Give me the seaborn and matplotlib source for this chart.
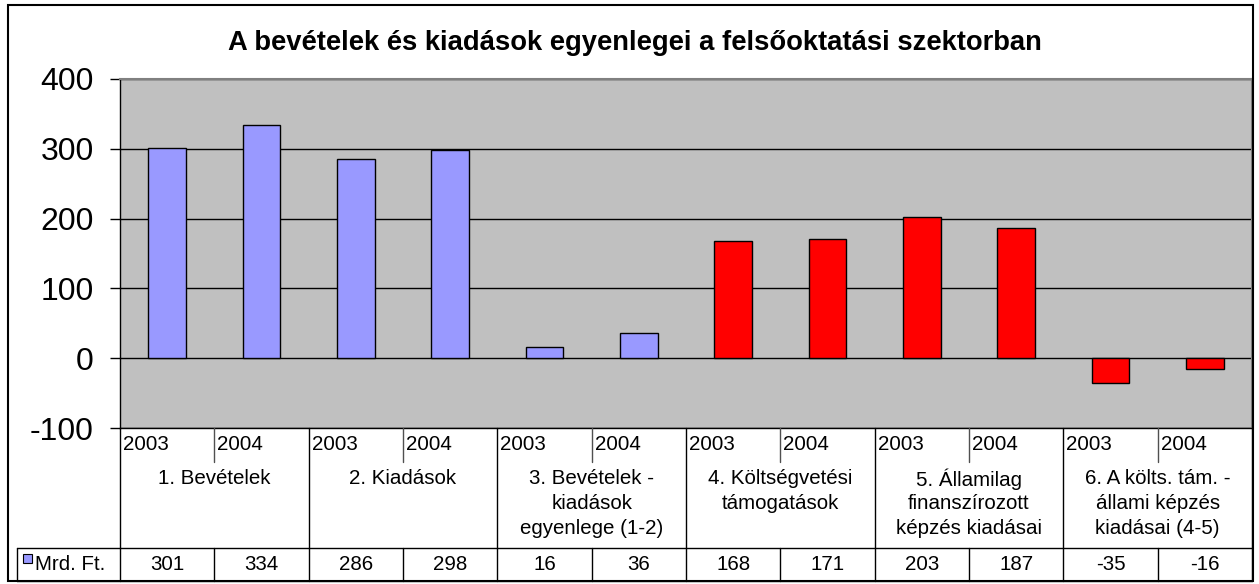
import matplotlib
matplotlib.use("Agg")
import matplotlib.pyplot as plt
import seaborn as sns
import pandas as pd

# ---- data ----
groups = ["1. Bevételek", "2. Kiadások", "3. Bevételek -\nkiadások\negyenlege (1-2)",
          "4. Költségvetési\ntámogatások", "5. Államilag\nfinanszírozott\nképzés kiadásai",
          "6. A költs. tám. -\nállami képzés\nkiadásai (4-5)"]
years = ["2003", "2004"]
values = [301, 334, 286, 298, 16, 36, 168, 171, 203, 187, -35, -16]
kinds = ["saját", "saját", "saját", "saját", "saját", "saját",
         "állami", "állami", "állami", "állami", "állami", "állami"]
series_name = "Mrd. Ft."
title = "A bevételek és kiadások egyenlegei a felsőoktatási szektorban"

W, H = 1259, 584
sns.set_style("white")
plt.rcParams['font.family'] = ['Liberation Sans', 'DejaVu Sans']
plt.rcParams['axes.unicode_minus'] = False
plt.rcParams['text.color'] = 'black'
plt.rcParams['ytick.color'] = 'black'
plt.rcParams['ytick.labelcolor'] = 'black'

bar_ids = [f"{g}|{y}" for g in groups for y in years]
df = pd.DataFrame({"bar": bar_ids, "value": values, "kind": kinds})

fig = plt.figure(figsize=(W / 100, H / 100), dpi=100)
px_left, px_right, px_top, px_bot = 120, 1252, 79, 428
ax = fig.add_axes([px_left / W, (H - px_bot) / H, (px_right - px_left) / W, (px_bot - px_top) / H])

sns.barplot(data=df, x="bar", y="value", hue="kind", order=bar_ids,
            palette={"saját": "#9999FF", "állami": "#FF0000"}, dodge=False, saturation=1,
            width=0.4, edgecolor="black", linewidth=1, legend=False, ax=ax, zorder=3)

ax.set_facecolor("#C0C0C0")
ax.set_xlim(-0.5, len(bar_ids) - 0.5)
ax.set_ylim(-100, 400)
ax.set_yticks([-100, 0, 100, 200, 300, 400])
ax.set_xticks([])
ax.set_xlabel("")
ax.set_ylabel("")
ax.grid(axis="y", color="black", linewidth=1, zorder=1)
ax.set_axisbelow(True)
ax.tick_params(axis="y", direction="out", length=7, width=1, color="black",
               labelcolor="black", labelsize=23, pad=12, left=True)
for s in ["left", "bottom"]:
    ax.spines[s].set_color("black")
    ax.spines[s].set_linewidth(1)
for s in ["top", "right"]:
    ax.spines[s].set_color("#808080")
    ax.spines[s].set_linewidth(1.5)

# ---- overlay in pixel coordinates: frame, title, data table ----
ov = fig.add_axes([0, 0, 1, 1], facecolor="none")
ov.set_xlim(0, W)
ov.set_ylim(H, 0)
ov.axis("off")

ov.add_patch(plt.Rectangle((8, 5), 1245, 576, fill=False, edgecolor="black", linewidth=1.5))
ov.text(635, 43, title, ha="center", va="center", fontsize=19.7, fontweight="bold", color="black")

step = (px_right - px_left) / len(bar_ids)
row_year_bot, row_val_top, tab_bot = 462, 548, 581
lc = dict(color="black", linewidth=1)
tk = dict(fontsize=14.8, color="black", va="center")

# year row and category boundaries
for gi in range(len(groups) + 1):
    x = px_left + gi * 2 * step
    ov.plot([x, x], [px_bot, tab_bot], **lc)
for gi, g in enumerate(groups):
    xm = px_left + (gi * 2 + 1) * step
    ov.plot([xm, xm], [px_bot, row_year_bot], color="#505050", linewidth=1)
    ov.plot([xm, xm], [row_val_top, tab_bot], **lc)
    for yi, yr in enumerate(years):
        ov.text(px_left + (gi * 2 + yi) * step + 3, 444, yr, ha="left", **tk)
    for li, line in enumerate(g.split("\n")):
        ov.text(px_left + (gi * 2 + 1) * step, 479 + li * 24.5, line, ha="center", **tk)

# value row
ov.plot([17, px_right], [row_val_top, row_val_top], **lc)
ov.plot([17, px_right], [tab_bot, tab_bot], **lc)
ov.plot([17, 17], [row_val_top, tab_bot], **lc)
for i, v in enumerate(values):
    ov.text(px_left + (i + 0.5) * step, 565, str(v), ha="center", **tk)
ov.add_patch(plt.Rectangle((23, 554), 9, 9, facecolor="#9999FF", edgecolor="black", linewidth=0.8))
ov.text(35, 565, series_name, ha="left", **tk)

fig.savefig("out.png", dpi=100)
